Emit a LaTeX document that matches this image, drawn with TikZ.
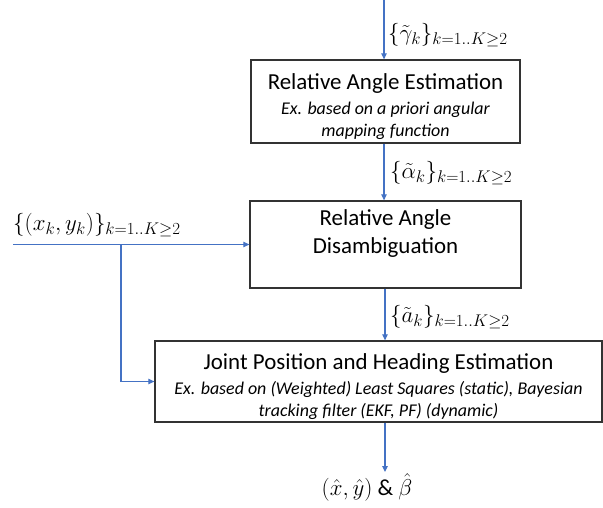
\RequirePackage{fix-cm}
\documentclass[tikz,border=0pt]{standalone}
\usepackage{fontspec}
\setmainfont{Carlito}
\usetikzlibrary{arrows.meta}
\DeclareMathSizes{23}{23}{17}{12}

\definecolor{flowblue}{RGB}{68,114,196}
\newcommand{\ttl}{\fontsize{23}{28}\selectfont\upshape}
\newcommand{\subt}{\fontsize{18}{22}\selectfont\itshape}
\tikzset{
  blk/.style={draw=black!80, line width=1.3bp, inner sep=0pt, align=center, font=\subt},
  flow/.style={draw=flowblue, line width=1.1bp, -{Triangle[length=6bp,width=5.5bp]}},
  lbl/.style={inner sep=0pt, font=\fontsize{23}{27}\selectfont}
}

\begin{document}
\begin{tikzpicture}[x=1bp,y=-1bp]
  \useasboundingbox (0,0) rectangle (603,508);

  % blocks
  \node[blk, minimum width=269bp, minimum height=83bp, text height=75bp, text depth=5bp] (est) at (385.5,101.5)
    {{\ttl Relative Angle Estimation}\\[3bp]Ex. based on a priori angular\\mapping function};
  \node[blk, minimum width=271bp, minimum height=87bp, font=\ttl, text depth=26bp] (dis) at (385.5,244.5)
    {Relative Angle\\Disambiguation};
  \node[blk, minimum width=447bp, minimum height=81bp, text height=75bp, text depth=5bp] (joint) at (378.5,381.5)
    {{\ttl Joint Position and Heading Estimation}\\[3bp]Ex. based on (Weighted) Least Squares (static), Bayesian\\tracking filter (EKF, PF) (dynamic)};

  % inputs and outputs
  \coordinate (top) at (384,0);
  \coordinate (src) at (13,244.5);
  \coordinate (br) at (121,244.5);
  \coordinate (out) at (385,472);

  \draw[flow] (top) -- (top |- est.north);
  \node[lbl, anchor=west] (gam) at (388,35) {$\{\tilde{\gamma}_k\}_{k=1..K\geq 2}$};

  \draw[flow] (est.south -| top) -- (dis.north -| top);
  \node[lbl, anchor=west] (alp) at (390,173) {$\{\tilde{\alpha}_k\}_{k=1..K\geq 2}$};

  \draw[flow] (src) -- (dis.west);
  \node[lbl, anchor=west] (pos) at (13,225) {$\{(x_k,y_k)\}_{k=1..K\geq 2}$};
  \draw[flow] (br) |- (joint.west);

  \draw[flow] (dis.south -| out) -- (joint.north -| out);
  \node[lbl, anchor=west] (alpd) at (390,317) {$\{\tilde{a}_k\}_{k=1..K\geq 2}$};

  \draw[flow] (joint.south -| out) -- (out);
  \node[lbl] (res) at (367,487) {$(\hat{x},\hat{y})$ \& $\hat{\beta}$};
\end{tikzpicture}
\end{document}
